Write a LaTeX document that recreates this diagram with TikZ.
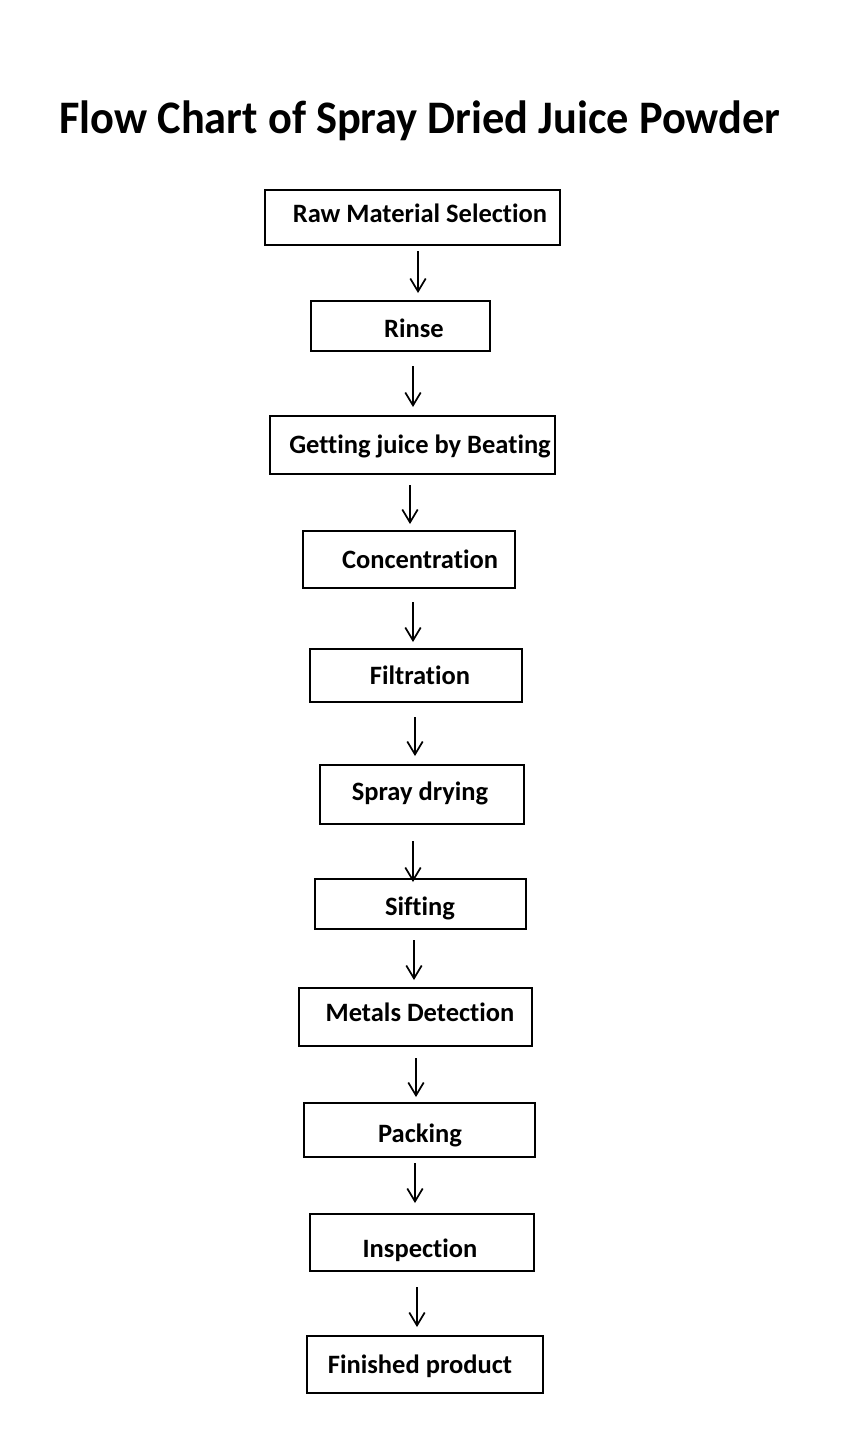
\documentclass[tikz,border=0pt]{standalone}
\usepackage{fontspec}
\setmainfont[Ligatures=NoCommon]{Carlito}
\usetikzlibrary{arrows.meta}
\begin{document}
\begin{tikzpicture}[x=1pt,y=-1pt,
  stepbox/.style={draw,line width=2pt,minimum height=0pt,inner sep=0pt},
  lbl/.style={font=\fontsize{26.5}{30}\selectfont\bfseries,inner sep=0pt,anchor=base},
  flow/.style={line width=1.7pt,-{Straight Barb[angle=62:15pt,line width=1.7pt]}}]
\useasboundingbox (0,0) rectangle (863,1451);
\node[font=\fontsize{44.4}{48}\selectfont\bfseries,inner sep=0pt,anchor=base] (title) at (420,133) {\scalebox{1}[1.05]{Flow Chart of Spray Dried Juice Powder}};
% boxes
\node[stepbox,minimum width=295pt,minimum height=55pt] (b1) at (412.5,217.5) {};
\node[stepbox,minimum width=179pt,minimum height=50pt] (b2) at (400.5,326) {};
\node[stepbox,minimum width=285pt,minimum height=58pt] (b3) at (412.5,445) {};
\node[stepbox,minimum width=212pt,minimum height=57pt] (b4) at (409,559.5) {};
\node[stepbox,minimum width=212pt,minimum height=53pt] (b5) at (416,675.5) {};
\node[stepbox,minimum width=204pt,minimum height=59pt] (b6) at (422,794.5) {};
\node[stepbox,minimum width=211pt,minimum height=50pt] (b7) at (420.5,904) {};
\node[stepbox,minimum width=233pt,minimum height=58pt] (b8) at (415.5,1017) {};
\node[stepbox,minimum width=231pt,minimum height=54pt] (b9) at (419.5,1130) {};
\node[stepbox,minimum width=224pt,minimum height=57pt] (b10) at (422,1242.5) {};
\node[stepbox,minimum width=236pt,minimum height=57pt] (b11) at (425,1364.5) {};
% labels
\node[lbl] (t1) at (420,222) {Raw Material Selection};
\node[lbl] (t2) at (414,337) {Rinse};
\node[lbl] (t3) at (420,453) {Getting juice by Beating};
\node[lbl] (t4) at (420,568) {Concentration};
\node[lbl] (t5) at (420,684) {Filtration};
\node[lbl] (t6) at (420,800) {Spray drying};
\node[lbl] (t7) at (420,915) {Sifting};
\node[lbl] (t8) at (420,1021) {Metals Detection};
\node[lbl] (t9) at (420,1142) {Packing};
\node[lbl] (t10) at (420,1257) {Inspection};
\node[lbl] (t11) at (420,1373) {Finished product};
% arrows
\draw[flow,shorten <=5pt,shorten >=7pt] (b1.south -| 418,0) -- (b2.north -| 418,0);
\draw[flow,shorten <=14pt,shorten >=8pt] (b2.south -| 413,0) -- (b3.north -| 413,0);
\draw[flow,shorten <=10pt,shorten >=6pt] (b3.south -| 410,0) -- (b4.north -| 410,0);
\draw[flow,shorten <=13pt,shorten >=6pt] (b4.south -| 413,0) -- (b5.north -| 413,0);
\draw[flow,shorten <=14pt,shorten >=8pt] (b5.south -| 415,0) -- (b6.north -| 415,0);
\draw[flow,shorten <=16pt,shorten >=-4pt] (b6.south -| 413,0) -- (b7.north -| 413,0);
\draw[flow,shorten <=10pt,shorten >=7pt] (b7.south -| 414,0) -- (b8.north -| 414,0);
\draw[flow,shorten <=11pt,shorten >=5pt] (b8.south -| 416,0) -- (b9.north -| 416,0);
\draw[flow,shorten <=5pt,shorten >=10pt] (b9.south -| 415,0) -- (b10.north -| 415,0);
\draw[flow,shorten <=15pt,shorten >=8pt] (b10.south -| 417,0) -- (b11.north -| 417,0);
\end{tikzpicture}
\end{document}
